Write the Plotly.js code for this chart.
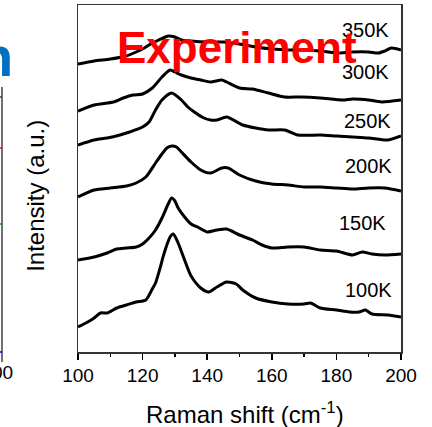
<!DOCTYPE html>
<html>
<head>
<meta charset="utf-8">
<script src="https://cdn.plot.ly/plotly-3.0.1.min.js"></script>
<style>
  html, body { margin: 0; padding: 0; background: #ffffff; }
  #chart { width: 432px; height: 427px; }
</style>
</head>
<body>
<div id="chart"></div>
<script>
// Raman spectra (offset, arbitrary units)
const temps = ['100K', '150K', '200K', '250K', '300K', '350K'];

const x100K = [100,103,105,107,109,112,115,118,121,123,124,125.5,126.5,128.5,129.5,131,133,135,138,140.5,143,146,149,151,155,160,165,170,172,175,180,184,187,189,191,196,200];
const y100K = [25,30,34,39,39,44,47,50,52,63,69,85,97,115,118,109,92,76,64,60,65,70,68,62,54,50,48,48,49,44,42,40,40,42,38,37,35];

const x150K = [100,105,109,112,115,118,120,122,124,126,127.5,129,130,131,133,135,137,140,143,146,150,154,157,160,165,170,175,180,185,188,191,195,200];
const y150K = [92,95,99,103,104,105,108,114,122,134,145,154,151,144,135,128,125,120,122,123,117,112,107,104,105,105,102,101,97,100,98,97,98];

const x200K = [100,105,110,115,118,121,124,126,127.5,129,130.5,132,135,138,141,144.5,146.5,150,155,160,165,170,175,180,185,190,195,200];
const y200K = [155,162,164,166,169,175,189,198,204,206,205,200,190,182,179,184,184,177,171,168,167,165,165,164,163,164,164,161];

const x250K = [100,105,109,113,116,120,122,124,126,129,132,134,136,139,141,143,146,151,155,159,164,168,175,180,185,190,196,200];
const y250K = [207,212,214,217,220,225,230,242,252,259,252,245,240,234,232,232,235,227,224,222,222,217,217,216,215,214,212,216];

const x300K = [100,105,111,114,117,120,123,126,128.5,130,132,135,138,141,144.5,146,150,154,159,164,169,175,182,185,190,194,200];
const y300K = [241,247,250,254,257,258,264,275,282,280,277,274,272,270,272,270,264,263,259,255,255,254,252,253,252,250,252];

const x350K = [100,105,110,115,118,120,123,125,127,128,130,132,135,140,145,150,155,160,165,170,175,180,185,190,193,195,197,200];
const y350K = [288,291,293,296,300,303,309,312,315,316,315,312,311,310,310,308,305,303,302,302,301,299,300,300,299,301,304,302];

const xTicks = [100, 120, 140, 160, 180, 200];
const xTickText = ['100', '120', '140', '160', '180', '200'];

const seriesX = [x100K, x150K, x200K, x250K, x300K, x350K];
const seriesY = [y100K, y150K, y200K, y250K, y300K, y350K];

const FONT = 'Arial, "Liberation Sans", sans-serif';

const traces = temps.map((t, i) => ({
  type: 'scatter',
  mode: 'lines',
  name: t,
  x: seriesX[i],
  y: seriesY[i],
  line: { color: '#000000', width: 3, shape: 'spline', smoothing: 0.7 },
  hoverinfo: 'skip',
  showlegend: false
}));

// temperature label positions (data coordinates near right edge)
const labelPos = [
  [189.8, 62], [188.2, 129], [189.8, 186], [189.5, 231], [188.9, 280], [188.9, 322]
];

const annotations = temps.map((t, i) => ({
  text: t, x: labelPos[i][0], y: labelPos[i][1], xref: 'x', yref: 'y',
  xanchor: 'center', yanchor: 'middle', showarrow: false,
  font: { family: FONT, size: 20, color: '#000000' }
}));

annotations.push({
  text: '<b>Experiment</b>', x: 149.2, y: 305, xref: 'x', yref: 'y',
  xanchor: 'center', yanchor: 'middle', showarrow: false,
  font: { family: FONT, size: 44, color: '#FF0000' }
});
annotations.push({
  text: 'Intensity (a.u.)', x: -0.130, y: 0.45, xref: 'paper', yref: 'paper',
  xanchor: 'center', yanchor: 'middle', textangle: -90, showarrow: false,
  font: { family: FONT, size: 24, color: '#000000' }
});
annotations.push({
  text: 'Raman shift (cm<sup>-1</sup>)', x: 0.517, y: -0.176, xref: 'paper', yref: 'paper',
  xanchor: 'center', yanchor: 'middle', showarrow: false,
  font: { family: FONT, size: 24, color: '#000000' }
});
// fragments of the neighbouring panel at the far left
annotations.push({
  text: '<b>n</b>', x: -0.196, y: 0.853, xref: 'paper', yref: 'paper',
  xanchor: 'right', yanchor: 'middle', showarrow: false,
  font: { family: FONT, size: 56, color: '#0070C0' }
});
annotations.push({
  text: '00', x: -0.195, y: -0.06, xref: 'paper', yref: 'paper',
  xanchor: 'right', yanchor: 'middle', showarrow: false,
  font: { family: FONT, size: 19, color: '#000000' }
});

const px = p => (p - 78) / 323;
const py = p => (352 - p) / 347;
const shapes = [
  { type: 'line', xref: 'paper', yref: 'paper', x0: px(2), x1: px(2), y0: py(362), y1: py(87), line: { color: '#404040', width: 1.5 } },
  { type: 'line', xref: 'paper', yref: 'paper', x0: px(-2), x1: px(2), y0: py(97), y1: py(97), line: { color: '#404040', width: 1.5 } },
  { type: 'line', xref: 'paper', yref: 'paper', x0: px(-2), x1: px(2), y0: py(148), y1: py(148), line: { color: '#ff0000', width: 1.5 } },
  { type: 'line', xref: 'paper', yref: 'paper', x0: px(-2), x1: px(2), y0: py(224), y1: py(224), line: { color: '#00a000', width: 1.5 } },
  { type: 'line', xref: 'paper', yref: 'paper', x0: px(-2), x1: px(2), y0: py(352), y1: py(352), line: { color: '#0000ff', width: 1.5 } }
];

const layout = {
  width: 432, height: 427,
  margin: { l: 78, r: 31, t: 5, b: 75, pad: 0 },
  paper_bgcolor: '#ffffff', plot_bgcolor: '#ffffff',
  showlegend: false,
  font: { family: FONT, color: '#000000' },
  xaxis: {
    range: [100, 200], tickmode: 'array', tickvals: xTicks, ticktext: xTickText,
    ticks: 'outside', ticklen: 6, tickwidth: 1.5, tickcolor: '#000000',
    minor: { dtick: 10, tick0: 100, ticks: 'outside', ticklen: 3, tickwidth: 1.5, tickcolor: '#000000', showgrid: false },
    showline: true, linecolor: '#333333', linewidth: 1.5, mirror: true,
    showgrid: false, zeroline: false,
    tickfont: { family: FONT, size: 19, color: '#000000' }
  },
  yaxis: {
    range: [0, 347], showticklabels: false, ticks: '',
    showline: true, linecolor: '#333333', linewidth: 1.5, mirror: true,
    showgrid: false, zeroline: false
  },
  annotations: annotations,
  shapes: shapes
};

Plotly.newPlot('chart', traces, layout, { staticPlot: true, displayModeBar: false });
</script>
</body>
</html>
